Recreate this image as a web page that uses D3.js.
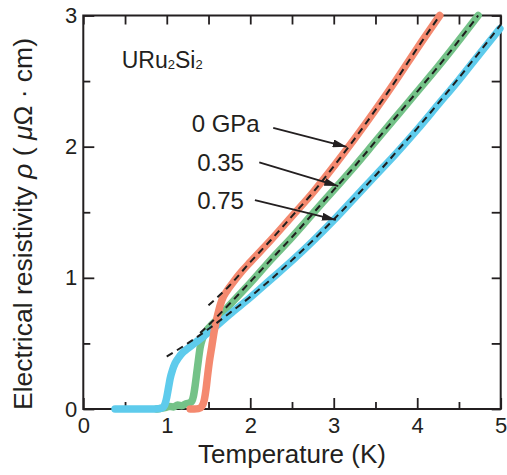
<!DOCTYPE html>
<html>
<head>
<meta charset="utf-8">
<script src="https://cdn.jsdelivr.net/npm/d3@7"></script>
<style>
  body { margin: 0; background: #fff; }
  svg { display: block; }
  text { font-family: "Liberation Sans", Arial, Helvetica, sans-serif; fill: #231f20; }
</style>
</head>
<body>
<svg id="chart" width="507" height="475"></svg>
<script>
// measured resistivity, [T (K), rho (uOhm cm)]
const data0 = [[1.28,0],[1.33,0],[1.38,0.003],[1.42,0.02],[1.45,0.07],[1.47,0.15],[1.49,0.26],[1.51,0.36],[1.54,0.48],[1.57,0.6],[1.61,0.72],[1.66,0.83],[1.72,0.9],[1.8,0.97],[1.9,1.05],[2.0,1.12],[2.25,1.29],[2.5,1.47],[2.75,1.65],[3.0,1.85],[3.25,2.06],[3.5,2.28],[3.75,2.51],[4.0,2.75],[4.27,3.0]];
const data035 = [[0.88,0],[0.93,0.005],[0.98,0.01],[1.03,0.02],[1.08,0.015],[1.13,0.03],[1.18,0.025],[1.23,0.04],[1.27,0.045],[1.3,0.06],[1.32,0.1],[1.34,0.18],[1.36,0.28],[1.38,0.38],[1.4,0.47],[1.43,0.54],[1.47,0.59],[1.52,0.63],[1.6,0.68],[1.75,0.79],[2.0,0.96],[2.25,1.14],[2.5,1.31],[2.75,1.49],[3.0,1.67],[3.25,1.85],[3.5,2.04],[3.75,2.23],[4.0,2.42],[4.25,2.61],[4.5,2.81],[4.73,3.0]];
const data075 = [[0.38,0],[0.5,0],[0.6,0],[0.7,0],[0.8,0],[0.9,0.002],[0.95,0.01],[0.98,0.04],[1.0,0.09],[1.02,0.16],[1.04,0.23],[1.07,0.3],[1.1,0.35],[1.14,0.39],[1.19,0.43],[1.25,0.46],[1.33,0.5],[1.42,0.545],[1.55,0.61],[1.75,0.72],[2.0,0.85],[2.25,0.99],[2.5,1.13],[2.75,1.28],[3.0,1.44],[3.25,1.61],[3.5,1.78],[3.75,1.95],[4.0,2.13],[4.25,2.32],[4.5,2.51],[4.75,2.71],[4.99,2.9]];

// fitted curves (dashed)
const fit0 = [[1.5,0.79],[1.75,0.94],[2.0,1.12],[2.25,1.29],[2.5,1.47],[2.75,1.65],[3.0,1.85],[3.25,2.06],[3.5,2.28],[3.75,2.51],[4.0,2.75],[4.27,3.0]];
const fit035 = [[1.4,0.58],[1.5,0.64],[1.75,0.8],[2.0,0.97],[2.25,1.14],[2.5,1.31],[2.75,1.49],[3.0,1.67],[3.25,1.85],[3.5,2.04],[3.75,2.23],[4.0,2.42],[4.25,2.61],[4.5,2.81],[4.73,3.0]];
const fit075 = [[1.0,0.4],[1.25,0.5],[1.5,0.61],[1.75,0.73],[2.0,0.855],[2.25,0.99],[2.5,1.135],[2.75,1.285],[3.0,1.445],[3.25,1.61],[3.5,1.78],[3.75,1.96],[4.0,2.14],[4.25,2.33],[4.5,2.525],[4.75,2.725],[5.0,2.93]];

const xMajor = [0, 1, 2, 3, 4, 5];
const xMinor = [0.5, 1.5, 2.5, 3.5, 4.5];
const yMajor = [0, 1, 2, 3];
const yMinor = [0.5, 1.5, 2.5];

const labelText = ["0 GPa", "0.35", "0.75"];
const labelPos = [[1.298, 2.114], [1.365, 1.816], [1.365, 1.522]];
const arrowFrom = [[2.275, 2.144], [2.108, 1.88], [2.056, 1.593]];
const arrowTo = [[3.155, 1.999], [3.054, 1.7], [3.026, 1.441]];

const ink = "#231f20";
const svg = d3.select("#chart");
const x = d3.scaleLinear().domain([0, 5]).range([83.3, 500.7]);
const y = d3.scaleLinear().domain([0, 3]).range([409, 15.5]);

function styleAxis(g, fs) {
    g.attr("font-family", null).attr("font-size", fs);
    g.select(".domain").remove();
    g.selectAll(".tick line").attr("stroke", ink).attr("stroke-width", 1.8);
    g.selectAll(".tick text").attr("fill", ink);
}

svg.append("g").attr("transform", "translate(0," + y(0) + ")")
    .call(d3.axisBottom(x).tickValues(xMajor).tickSize(-11).tickPadding(8).tickFormat(d3.format("d")))
    .call(g => styleAxis(g, 22));
svg.append("g").attr("transform", "translate(0," + y(0) + ")")
    .call(d3.axisBottom(x).tickValues(xMinor).tickSize(-7).tickFormat(""))
    .call(g => styleAxis(g, 22));
svg.append("g").attr("transform", "translate(0," + y(3) + ")")
    .call(d3.axisTop(x).tickValues(xMajor.concat(xMinor)).tickSize(-9).tickFormat(""))
    .call(g => styleAxis(g, 22));
svg.append("g").attr("transform", "translate(" + x(0) + ",0)")
    .call(d3.axisLeft(y).tickValues(yMajor).tickSize(-11).tickPadding(6).tickFormat(d3.format("d")))
    .call(g => styleAxis(g, 22));
svg.append("g").attr("transform", "translate(" + x(0) + ",0)")
    .call(d3.axisLeft(y).tickValues(yMinor).tickSize(-7).tickFormat(""))
    .call(g => styleAxis(g, 22));
svg.append("g").attr("transform", "translate(" + x(5) + ",0)")
    .call(d3.axisRight(y).tickValues(yMajor.concat(yMinor)).tickSize(-9).tickFormat(""))
    .call(g => styleAxis(g, 22));

svg.append("rect")
    .attr("x", x(0)).attr("y", y(3))
    .attr("width", x(5) - x(0)).attr("height", y(0) - y(3))
    .attr("fill", "none").attr("stroke", ink).attr("stroke-width", 2);

const line = d3.line().x(d => x(d[0])).y(d => y(d[1])).curve(d3.curveMonotoneX);

const series = [
    { data: data035, color: "#74c288" },
    { data: data075, color: "#5ecbec" },
    { data: data0, color: "#f4896f" }
];
series.forEach(s => {
    svg.append("path").datum(s.data)
        .attr("d", line)
        .attr("fill", "none")
        .attr("stroke", s.color)
        .attr("stroke-width", 7.5)
        .attr("stroke-linecap", "round")
        .attr("stroke-linejoin", "round");
});

[fit0, fit035, fit075].forEach(f => {
    svg.append("path").datum(f)
        .attr("d", line)
        .attr("fill", "none")
        .attr("stroke", "#1e1e1e")
        .attr("stroke-width", 2)
        .attr("stroke-dasharray", "7,5");
});

// arrows and pressure labels
svg.append("defs").append("marker")
    .attr("id", "arrowhead")
    .attr("viewBox", "0 0 14 8")
    .attr("refX", 14).attr("refY", 4)
    .attr("markerWidth", 14).attr("markerHeight", 8)
    .attr("markerUnits", "userSpaceOnUse")
    .attr("orient", "auto")
    .append("path").attr("d", "M0,0L14,4L0,8Z").attr("fill", ink);

labelText.forEach((t, i) => {
    svg.append("text")
        .attr("x", x(labelPos[i][0])).attr("y", y(labelPos[i][1]))
        .attr("font-size", 24)
        .text(t);
    svg.append("line")
        .attr("x1", x(arrowFrom[i][0])).attr("y1", y(arrowFrom[i][1]))
        .attr("x2", x(arrowTo[i][0])).attr("y2", y(arrowTo[i][1]))
        .attr("stroke", ink).attr("stroke-width", 1.8)
        .attr("marker-end", "url(#arrowhead)");
});

const compound = svg.append("text")
    .attr("x", x(0.46)).attr("y", y(2.597))
    .attr("font-size", 23);
compound.append("tspan").text("URu");
compound.append("tspan").attr("font-size", 13).attr("dy", 1).text("2");
compound.append("tspan").attr("dy", -1).text("Si");
compound.append("tspan").attr("font-size", 13).attr("dy", 1).text("2");

// axis titles
svg.append("text")
    .attr("x", (x(0) + x(5)) / 2).attr("y", 463)
    .attr("text-anchor", "middle")
    .attr("font-size", 26)
    .text("Temperature (K)");

const yTitle = svg.append("text")
    .attr("transform", "translate(32,224) rotate(-90)")
    .attr("text-anchor", "middle")
    .attr("font-size", 26.5);
yTitle.append("tspan").text("Electrical resistivity ");
yTitle.append("tspan").attr("font-style", "italic").text("ρ");
yTitle.append("tspan").text(" ( ");
yTitle.append("tspan").attr("font-style", "italic").text("μ");
yTitle.append("tspan").text("Ω · cm)");
</script>
</body>
</html>
